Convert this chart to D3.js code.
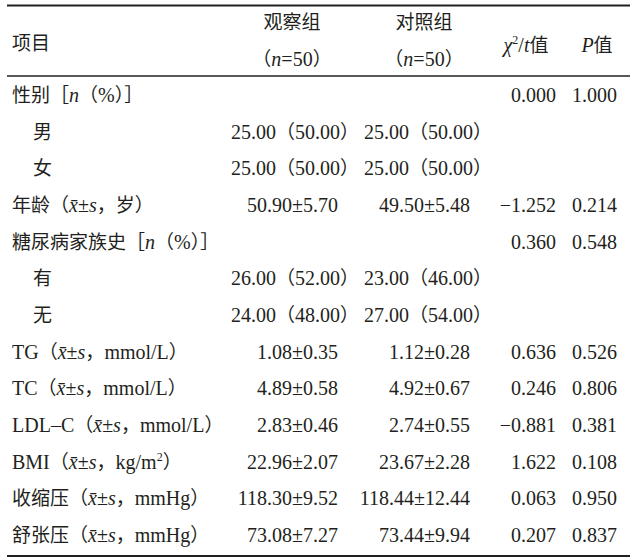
<!DOCTYPE html>
<html>
<head>
<meta charset="utf-8">
<script src="https://cdn.jsdelivr.net/npm/d3@7"></script>
<style>
  html, body { margin: 0; padding: 0; background: #fff; }
</style>
</head>
<body>
<div id="table"></div>
<script>
// Baseline comparison table (three-line table)
// markup: *..* = italic, ^..^ = superscript
const headers = ["项目", "观察组", "对照组", "*χ*^2^/*t*值", "*P*值"];
const subHeaders = ["", "（*n*=50）", "（*n*=50）", "", ""];

const rowLabels = [
  "性别［*n*（%）］", "男", "女", "年龄（*x̄*±*s*，岁）", "糖尿病家族史［*n*（%）］",
  "有", "无", "TG（*x̄*±*s*，mmol/L）", "TC（*x̄*±*s*，mmol/L）",
  "LDL–C（*x̄*±*s*，mmol/L）", "BMI（*x̄*±*s*，kg/m^2^）",
  "收缩压（*x̄*±*s*，mmHg）", "舒张压（*x̄*±*s*，mmHg）"
];
const rowLevel = [0, 1, 1, 0, 0, 1, 1, 0, 0, 0, 0, 0, 0];

const observed = ["", "25.00（50.00）", "25.00（50.00）", "50.90±5.70", "",
  "26.00（52.00）", "24.00（48.00）", "1.08±0.35", "4.89±0.58", "2.83±0.46",
  "22.96±2.07", "118.30±9.52", "73.08±7.27"];
const control = ["", "25.00（50.00）", "25.00（50.00）", "49.50±5.48", "",
  "23.00（46.00）", "27.00（54.00）", "1.12±0.28", "4.92±0.67", "2.74±0.55",
  "23.67±2.28", "118.44±12.44", "73.44±9.94"];
const statValues = ["0.000", "", "", "−1.252", "0.360", "", "", "0.636",
  "0.246", "−0.881", "1.622", "0.063", "0.207"];
const pValues = ["1.000", "", "", "0.214", "0.548", "", "", "0.526",
  "0.806", "0.381", "0.108", "0.950", "0.837"];

const W = 634, H = 559;
const ink = "#231f20";
const latinFont = "'Liberation Serif', 'Times New Roman', serif";
const cjkFont = "'Noto Sans CJK SC', sans-serif";

const svg = d3.select("#table").append("svg")
  .attr("width", W).attr("height", H)
  .style("display", "block");

svg.append("rect").attr("width", W).attr("height", H).attr("fill", "#fff");

const y = d3.scalePoint()
  .domain(d3.range(rowLabels.length))
  .range([95, 535]);

const isCjk = ch => /[\u3000-\u303f\u4e00-\u9fff\uff00-\uffef]/.test(ch);

// parse markup into runs {text, italic, sup, cjk}
function parse(str) {
  const runs = [];
  let italic = false, sup = false, buf = "";
  const flush = () => { if (buf) runs.push({ text: buf, italic, sup }); buf = ""; };
  for (const ch of str) {
    if (ch === "*") { flush(); italic = !italic; continue; }
    if (ch === "^") { flush(); sup = !sup; continue; }
    buf += ch;
  }
  flush();
  const out = [];
  runs.forEach(r => {
    let cur = "", curCjk = null;
    for (const ch of r.text) {
      const c = isCjk(ch);
      if (curCjk !== null && c !== curCjk) { out.push({ ...r, text: cur, cjk: curCjk }); cur = ""; }
      cur += ch; curCjk = c;
    }
    if (cur) out.push({ ...r, text: cur, cjk: curCjk });
  });
  return out;
}

function richText(g, str, x, yBase, anchor) {
  const t = g.append("text")
    .attr("x", x).attr("y", yBase)
    .attr("text-anchor", anchor)
    .attr("fill", ink);
  let raised = false;
  parse(str).forEach(r => {
    const s = t.append("tspan")
      .attr("font-family", r.cjk ? cjkFont : latinFont)
      .attr("font-size", r.sup ? 12 : (r.cjk ? 19 : 20))
      .attr("font-style", r.italic ? "italic" : "normal")
      .attr("font-weight", 400)
      .text(r.text);
    if (r.sup && !raised) { s.attr("dy", -8); raised = true; }
    else if (!r.sup && raised) { s.attr("dy", 8); raised = false; }
  });
  return t;
}

// column anchors: body x and header centre
const cols = [
  { key: "label", x: 12, anchor: "start" },
  { key: "obs", x: 338, anchor: "end", hx: 292 },
  { key: "ctl", x: 470, anchor: "end", hx: 424 },
  { key: "stat", x: 556, anchor: "end", hx: 526 },
  { key: "p", x: 617, anchor: "end", hx: 597 }
];

const g = svg.append("g");

// Rules
[{ y: 5.5, w: 2 }, { y: 76, w: 1.3 }, { y: 556, w: 2 }].forEach(r => {
  g.append("line")
    .attr("x1", 7).attr("x2", 630)
    .attr("y1", r.y).attr("y2", r.y)
    .attr("stroke", ink).attr("stroke-width", r.w);
});

// Header
richText(g, headers[0], 12, 50, "start");
richText(g, headers[1], cols[1].hx, 29, "middle");
richText(g, headers[2], cols[2].hx, 29, "middle");
richText(g, subHeaders[1], cols[1].hx, 66, "middle");
richText(g, subHeaders[2], cols[2].hx, 66, "middle");
richText(g, headers[3], cols[3].hx, 52, "middle");
richText(g, headers[4], cols[4].hx, 52, "middle");

// Body
const base = i => y(i) + 7;
rowLabels.forEach((lab, i) => {
  richText(g, lab, rowLevel[i] ? 33 : 12, base(i), "start");
  const pct = observed[i].includes("（");
  if (observed[i]) richText(g, observed[i], pct ? 231 : cols[1].x, base(i), pct ? "start" : "end");
  if (control[i]) richText(g, control[i], pct ? 364 : cols[2].x, base(i), pct ? "start" : "end");
  if (statValues[i]) richText(g, statValues[i], cols[3].x, base(i), "end");
  if (pValues[i]) richText(g, pValues[i], cols[4].x, base(i), "end");
});
</script>
</body>
</html>
